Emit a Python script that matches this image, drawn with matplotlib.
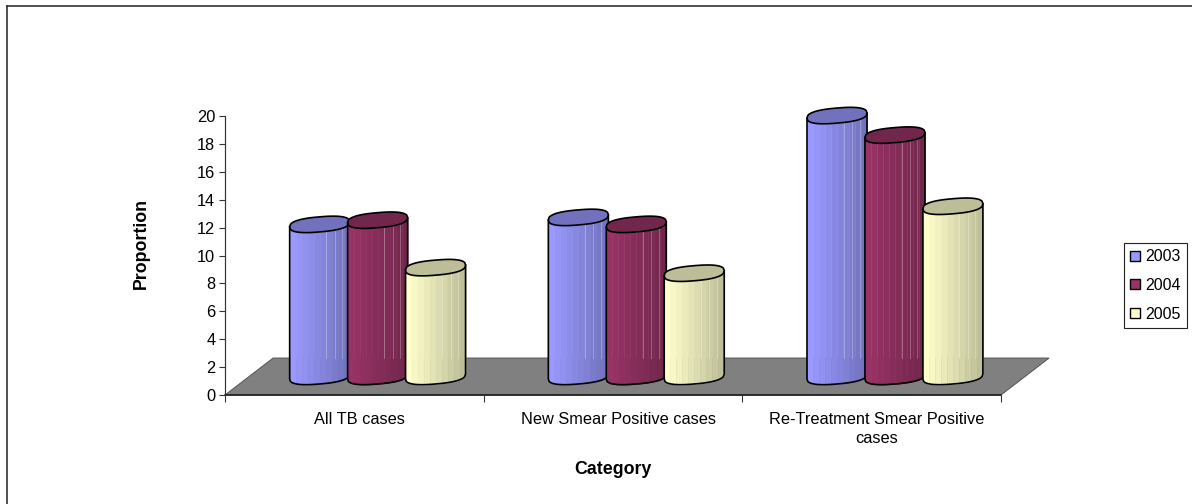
import numpy as np
import matplotlib
matplotlib.use('Agg')
import matplotlib.pyplot as plt
from matplotlib.patches import Patch, Polygon
from matplotlib.lines import Line2D

plt.rcParams['font.family'] = ['Liberation Sans', 'DejaVu Sans']

categories = ['All TB cases', 'New Smear Positive cases', 'Re-Treatment Smear Positive\ncases']
years = ['2003', '2004', '2005']
values_2003 = [10.9, 11.4, 18.7]
values_2004 = [11.2, 10.9, 17.3]
values_2005 = [7.8, 7.4, 12.2]
yticks = list(range(0, 21, 2))

series = [values_2003, values_2004, values_2005]
colors = [(153, 153, 255), (153, 51, 102), (255, 255, 204)]

W, H = 1192, 504
fig = plt.figure(figsize=(W / 100, H / 100), dpi=100, facecolor='white')
ax = fig.add_axes([225 / W, 1 - 395 / H, 776 / W, 279 / H])
ax.set_xlim(-0.5, 2.5)
ax.set_ylim(0, 20)
ax.patch.set_visible(False)

# 3d look of the old spreadsheet chart: floor depth and cylinder shape
depth_x = 0.186
depth_y = 2.65
base_y = 1.33
group_shift = 0.09
spacing = 0.224
half_w = 0.116
half_h = 0.54
tilt = 1.55
lw_px = 0.72


def ell(u, sign, p=2.5):
    return sign * half_h * (1 - np.abs(u) ** p) ** (1 / p)


def shade(rgb, f):
    return tuple(c * f / 255 for c in rgb)


def cylinder(cx, top, rgb, z):
    bottom = base_y
    top = base_y + top
    # body, painted as vertical strips getting darker to the right
    edges = np.linspace(-1, 1, 11)
    for i in range(10):
        u = np.linspace(edges[i], edges[i + 1], 12)
        x = cx + half_w * u
        y0 = bottom + tilt * half_w * u + ell(u, -1)
        y1 = top + tilt * half_w * u + ell(u, -1)
        ax.fill_between(x, y0, y1, color=shade(rgb, 1 - 0.25 * i / 9), lw=0.3, zorder=z, clip_on=False)
    # thin light seams near the right side
    for u0, alpha in [(0.22, 0.3), (0.5, 0.28), (0.75, 0.25)]:
        xs = cx + half_w * u0
        y1 = top + tilt * half_w * u0 + ell(np.array(u0), -1)
        ax.plot([xs, xs], [depth_y, y1], color='white', lw=0.7, alpha=alpha, zorder=z, clip_on=False)
    # outline of side and bottom
    u = np.linspace(-1, 1, 80)
    xb = cx + half_w * u
    yb = bottom + tilt * half_w * u + ell(u, -1)
    xo = np.r_[cx - half_w, xb, cx + half_w]
    yo = np.r_[top - tilt * half_w, yb, top + tilt * half_w]
    ax.plot(xo, yo, color='black', lw=1.2, zorder=z + 0.1, clip_on=False)
    # top cap
    xc = np.r_[xb, xb[::-1]]
    yc = np.r_[top + tilt * half_w * u + ell(u, -1), (top + tilt * half_w * u + ell(u, 1))[::-1]]
    ax.add_patch(Polygon(np.c_[xc, yc], closed=True, facecolor=shade(rgb, 0.74), edgecolor='black',
                         lw=1.2, zorder=z + 0.2, clip_on=False))


# floor
floor_pts = [(-0.5, 0), (2.5, 0), (2.5 + depth_x, depth_y), (-0.5 + depth_x, depth_y)]
ax.add_patch(Polygon(floor_pts, closed=True, facecolor='#808080', edgecolor='#555555', lw=0.7,
                     zorder=1, clip_on=False))

z = 2
for c in range(len(categories)):
    for s in range(len(series)):
        cx = c + group_shift + (s - 1) * spacing
        cylinder(cx, series[s][c], colors[s], z)
        z += 1

# axes
for side in ['top', 'right']:
    ax.spines[side].set_visible(False)
ax.spines['left'].set_color('#333333')
ax.spines['left'].set_linewidth(lw_px * 1.2)
ax.spines['bottom'].set_color('#111111')
ax.spines['bottom'].set_linewidth(lw_px * 1.5)
ax.spines['bottom'].set_zorder(1.5)
ax.set_yticks(yticks)
ax.set_xticks([-0.5, 0.5, 1.5, 2.5])
ax.set_xticklabels([])
ax.set_xticks([c + 0.021 for c in range(len(categories))], minor=True)
ax.set_xticklabels(categories, minor=True, fontsize=11.8, linespacing=1.35)
ax.tick_params(axis='x', which='minor', length=0, pad=12)
ax.tick_params(axis='x', which='major', length=5, width=0.8, color='#333333')
ax.tick_params(axis='y', length=4, width=0.8, color='#333333', labelsize=11.8, pad=3)

fig.text(613 / W, 1 - 469 / H, 'Category', fontsize=12.8, fontweight='bold', ha='center', va='center')
fig.text(141 / W, 1 - 243 / H, 'Proportion', fontsize=12.8, fontweight='bold', ha='center', va='center',
         rotation=90)

# legend
handles = [Patch(facecolor=tuple(v / 255 for v in col), edgecolor='black', lw=1) for col in colors]
leg = fig.legend(handles, years, loc='upper left', bbox_to_anchor=(1124 / W, 1 - 243 / H),
                 fontsize=11.5, fancybox=False, framealpha=1, edgecolor='#222222',
                 handlelength=0.6, handleheight=0.6, handletextpad=0.35, labelspacing=0.85,
                 borderpad=0.4, borderaxespad=0, frameon=True)
leg.get_frame().set_linewidth(0.8)

# chart area border, only the top and left show
fig.add_artist(Line2D([7.5 / W, 7.5 / W], [0, 1 - 5.5 / H], color='#222222', lw=1.1))
fig.add_artist(Line2D([7.5 / W, 1], [1 - 5.5 / H, 1 - 5.5 / H], color='#222222', lw=1.1))

fig.savefig('out.png', dpi=100)
